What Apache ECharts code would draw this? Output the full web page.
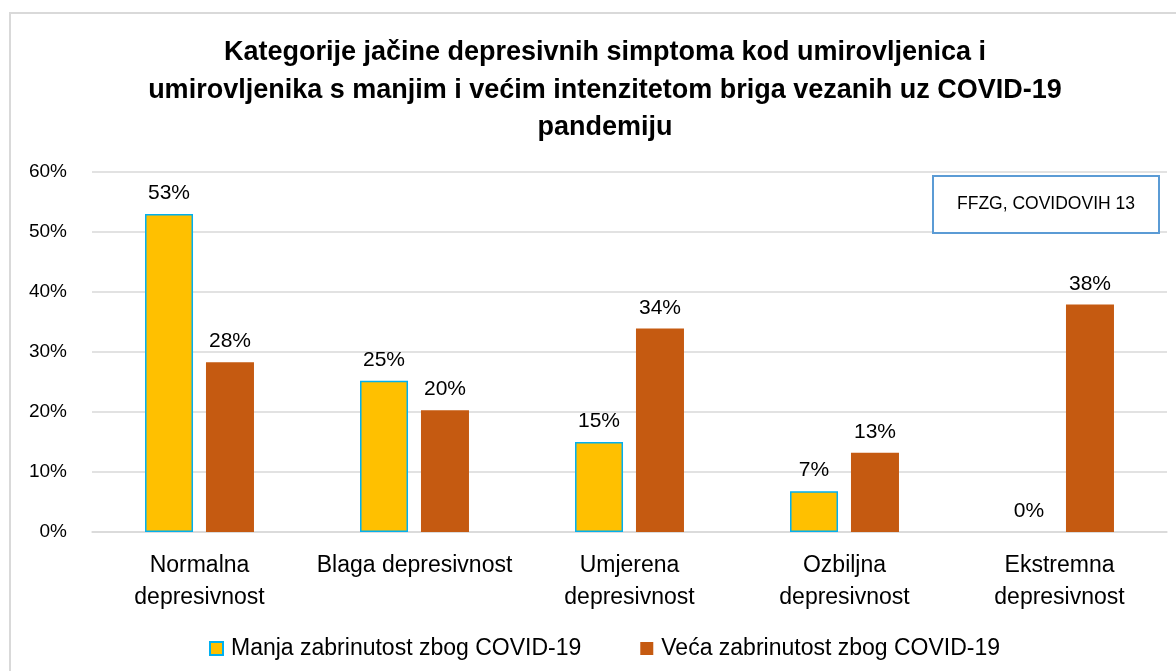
<!DOCTYPE html>
<html>
<head>
<meta charset="utf-8">
<script src="https://cdn.jsdelivr.net/npm/echarts@6/dist/echarts.min.js"></script>
<style>html,body{margin:0;padding:0;background:#fff}#c{width:1176px;height:671px}</style>
</head>
<body>
<div id="c"></div>
<script>
const categories = ['Normalna\ndepresivnost', 'Blaga depresivnost', 'Umjerena\ndepresivnost', 'Ozbiljna\ndepresivnost', 'Ekstremna\ndepresivnost'];
const seriesNames = ['Manja zabrinutost zbog COVID-19', 'Veća zabrinutost zbog COVID-19'];
const manja = [53, 25.2, 15, 6.8, 0];
const veca = [28.3, 20.3, 33.9, 13.2, 37.9];
const yTicks = [0, 10, 20, 30, 40, 50, 60];
const titleText = 'Kategorije jačine depresivnih simptoma kod umirovljenica i\numirovljenika s manjim i većim intenzitetom briga vezanih uz COVID-19\npandemiju';
const noteText = 'FFZG, COVIDOVIH 13';

const FONT = 'Liberation Sans';
const chart = echarts.init(document.getElementById('c'));
chart.setOption({
  animation: false,
  backgroundColor: '#fff',
  textStyle: { fontFamily: FONT },
  title: {
    text: titleText,
    left: 600, top: 29, textAlign: 'center',
    textStyle: { fontFamily: FONT, fontWeight: 'bold', fontSize: 27, lineHeight: 37.5, color: '#000' }
  },
  legend: {
    data: seriesNames,
    left: 204, top: 632,
    icon: 'rect', itemWidth: 13, itemHeight: 13, itemGap: 59,
    textStyle: { fontFamily: FONT, fontSize: 23, color: '#000', padding: [0, 0, 0, 3] }
  },
  grid: { left: 92, right: 9, top: 172, bottom: 139, containLabel: false },
  xAxis: {
    type: 'category', data: categories,
    axisLine: { lineStyle: { color: '#d9d9d9', width: 1.5 } },
    axisTick: { show: false },
    axisLabel: { fontFamily: FONT, fontSize: 23, color: '#000', lineHeight: 32, margin: 18, interval: 0 }
  },
  yAxis: {
    type: 'value', min: yTicks[0], max: yTicks[yTicks.length - 1], interval: 10,
    axisLine: { show: false }, axisTick: { show: false },
    splitLine: { lineStyle: { color: '#d9d9d9', width: 1.5 } },
    axisLabel: { fontFamily: FONT, fontSize: 19, color: '#000', margin: 25, formatter: v => v + '%' }
  },
  series: [
    {
      name: seriesNames[0], type: 'bar',
      data: manja.map(v => v === 0 ? { value: v, itemStyle: { borderWidth: 0 } } : v),
      barWidth: 48, barGap: '27%',
      itemStyle: { color: '#FFC000', borderColor: '#00B0F0', borderWidth: 1.5 },
      label: { show: true, position: 'top', distance: 10, fontFamily: FONT, fontSize: 21, color: '#000',
        formatter: p => Math.round(p.value) + '%' }
    },
    {
      name: seriesNames[1], type: 'bar', data: veca, barWidth: 48,
      itemStyle: { color: '#C55A11' },
      label: { show: true, position: 'top', distance: 10, fontFamily: FONT, fontSize: 21, color: '#000',
        formatter: p => Math.round(p.value) + '%' }
    }
  ],
  graphic: [
    { type: 'rect', shape: { x: 10, y: 13, width: 1200, height: 700 }, style: { fill: 'none', stroke: '#d9d9d9', lineWidth: 2 }, silent: true, z: -1 },
    { type: 'rect', shape: { x: 933, y: 176, width: 226, height: 57 }, style: { fill: '#fff', stroke: '#5B9BD5', lineWidth: 2 }, z: 10 },
    { type: 'text', x: 1046, y: 204.5, style: { text: noteText, fontFamily: FONT, fontSize: 17.5, fill: '#000', align: 'center', verticalAlign: 'middle' }, z: 11 }
  ]
});
</script>
</body>
</html>
